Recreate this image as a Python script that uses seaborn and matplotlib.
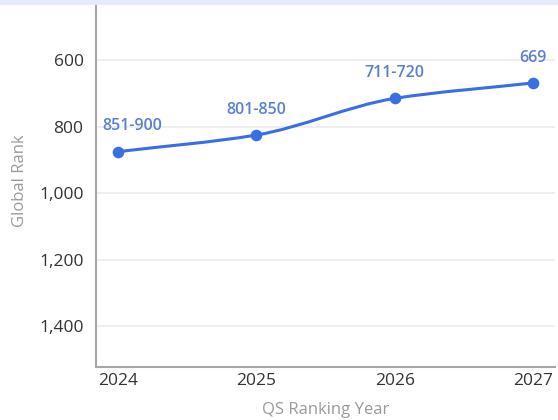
import numpy as np
import pandas as pd
import matplotlib
matplotlib.use("Agg")
import matplotlib.pyplot as plt
from matplotlib.path import Path
from matplotlib.patches import PathPatch, Rectangle
import seaborn as sns

# QS World University Rankings: global position by edition
years = [2024, 2025, 2026, 2027]
rank_values = [875.5, 825.5, 715.5, 669]
rank_labels = ["851-900", "801-850", "711-720", "669"]
y_ticks = [600, 800, 1000, 1200, 1400]
y_tick_labels = ["600", "800", "1,000", "1,200", "1,400"]

df = pd.DataFrame({"year": years, "rank": rank_values, "label": rank_labels})

LINE = "#3a6ee3"
LABEL_BLUE = "#5a7dd6"
GRID = "#ececec"
SPINE = "#a6a6a6"

sns.set_theme(style="white")
plt.rcParams["font.family"] = ["Open Sans", "DejaVu Sans"]

fig = plt.figure(figsize=(5.58, 4.2), dpi=100)
fig.patch.set_facecolor("white")
ax = fig.add_axes([96 / 558, 53 / 420, (555 - 96) / 558, (426.5 - 53) / 420])


def monotone_path(x, y):
    """Cubic Bezier path through the points with monotone (Fritsch-Carlson) tangents."""
    x = np.asarray(x, float)
    y = np.asarray(y, float)
    h = np.diff(x)
    s = np.diff(y) / h
    m = np.zeros_like(y)
    m[0], m[-1] = s[0], s[-1]
    for i in range(1, len(x) - 1):
        if s[i - 1] * s[i] <= 0:
            m[i] = 0.0
        else:
            w1 = 2 * h[i] + h[i - 1]
            w2 = h[i] + 2 * h[i - 1]
            m[i] = (w1 + w2) / (w1 / s[i - 1] + w2 / s[i])
    verts = [(x[0], y[0])]
    codes = [Path.MOVETO]
    for i in range(len(x) - 1):
        d = h[i] / 3
        verts += [(x[i] + d, y[i] + m[i] * d),
                  (x[i + 1] - d, y[i + 1] - m[i + 1] * d),
                  (x[i + 1], y[i + 1])]
        codes += [Path.CURVE4] * 3
    return Path(verts, codes)


ax.add_patch(PathPatch(monotone_path(df["year"], df["rank"]), facecolor="none",
                       edgecolor=LINE, linewidth=2.2, capstyle="round", zorder=3))
sns.scatterplot(data=df, x="year", y="rank", ax=ax, color=LINE, s=70,
                edgecolor=LINE, linewidth=0, zorder=4, legend=False)

for i, row in df.iterrows():
    if i == 0:
        ax.annotate(row["label"], (row["year"], row["rank"]), xytext=(-11.5, 18.5),
                    textcoords="offset points", ha="left", va="center",
                    color=LABEL_BLUE, fontsize=11.5, fontweight="semibold")
    else:
        ax.annotate(row["label"], (row["year"], row["rank"]), xytext=(0, 18),
                    textcoords="offset points", ha="center", va="center",
                    color=LABEL_BLUE, fontsize=11.5, fontweight="semibold")

ax.set_xlim(2023.84, 2027.16)
ax.set_ylim(1523, 400)
ax.set_xticks(years)
ax.set_xticklabels([str(y) for y in years])
ax.set_yticks(y_ticks)
ax.set_yticklabels(y_tick_labels)
ax.yaxis.grid(True, color=GRID, linewidth=1.2)
ax.xaxis.grid(False)
ax.set_axisbelow(True)

ax.tick_params(axis="y", length=0, pad=9, labelsize=12.5, labelcolor="#333333")
ax.tick_params(axis="x", length=0, pad=4, labelsize=12.5, labelcolor="#333333")

for side in ["top", "right"]:
    ax.spines[side].set_visible(False)
for side in ["left", "bottom"]:
    ax.spines[side].set_color(SPINE)
    ax.spines[side].set_linewidth(1.5)

ax.set_xlabel("QS Ranking Year", fontsize=12, color="#9a9a9a", labelpad=10)
ax.set_ylabel("Global Rank", fontsize=12, color="#9a9a9a", labelpad=8)

# pale header strip across the top edge
fig.patches.append(Rectangle((0, 1 - 5 / 420), 1, 5 / 420, transform=fig.transFigure,
                             facecolor="#e6ebfc", edgecolor="none", zorder=10))

fig.savefig("out.png", dpi=100)
